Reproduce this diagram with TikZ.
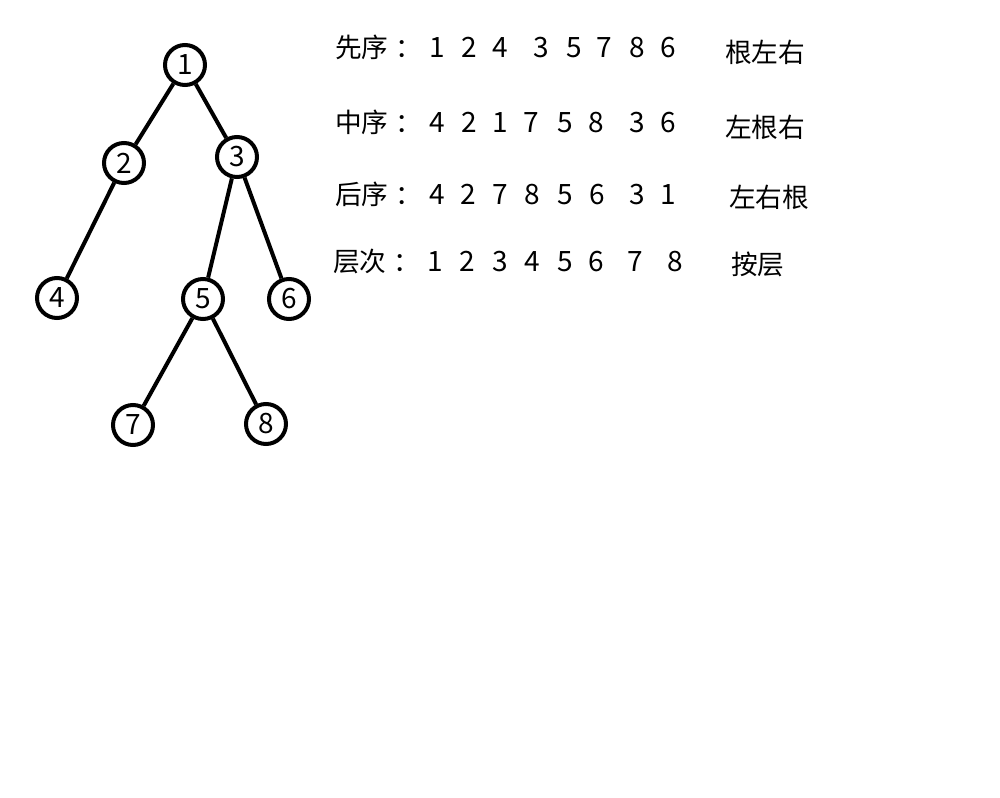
\documentclass[tikz,border=0pt]{standalone}
\usepackage{fontspec}
\setmainfont{Noto Sans CJK SC}
\begin{document}
\begin{tikzpicture}[x=0.75pt,y=-0.75pt,
  tn/.style={circle,draw,line width=3pt,minimum size=30pt,inner sep=0pt,font=\fontsize{21pt}{24pt}\selectfont},
  edge/.style={line width=3pt},
  txt/.style={anchor=base,inner sep=0pt,font=\fontsize{21pt}{24pt}\selectfont},
  lbl/.style={anchor=base west,inner sep=0pt,font=\fontsize{20pt}{24pt}\selectfont}]
\useasboundingbox[fill=white] (0,0) rectangle (1000,798);
\node[tn] (n1) at (185,65) {1};
\node[tn] (n2) at (124,163) {2};
\node[tn] (n3) at (237,157) {3};
\node[tn] (n4) at (57,298) {4};
\node[tn] (n5) at (203,299) {5};
\node[tn] (n6) at (289,299) {6};
\node[tn] (n7) at (133,425) {7};
\node[tn] (n8) at (266,424) {8};
\draw[edge] (n1) -- (n2);
\draw[edge] (n1) -- (n3);
\draw[edge] (n2) -- (n4);
\draw[edge] (n3) -- (n5);
\draw[edge] (n3) -- (n6);
\draw[edge] (n5) -- (n7);
\draw[edge] (n5) -- (n8);
% row 1
\node[lbl] (h1) at (335,58) {先序\hspace{5pt}：};
\foreach \d/\x [count=\i] in {1/437,2/469,4/500,3/541,5/574,7/604,8/637,6/668}
  \node[txt] (ra\i) at (\x,58) {\d};
\node[lbl] (t1) at (725,63) {根左右};
% row 2
\node[lbl] (h2) at (335,133) {中序\hspace{5pt}：};
\foreach \d/\x [count=\i] in {4/437,2/469,1/500,7/531,5/565,8/596,3/637,6/668}
  \node[txt] (rb\i) at (\x,133) {\d};
\node[lbl] (t2) at (725,138) {左根右};
% row 3
\node[lbl] (h3) at (335,205) {后序\hspace{5pt}：};
\foreach \d/\x [count=\i] in {4/437,2/468,7/500,8/532,5/565,6/597,3/637,1/668}
  \node[txt] (rc\i) at (\x,205) {\d};
\node[lbl] (t3) at (729,208) {左右根};
% row 4
\node[lbl] (h4) at (333,272) {层次\hspace{5pt}：};
\foreach \d/\x [count=\i] in {1/435,2/467,3/500,4/532,5/565,6/596,7/635,8/675}
  \node[txt] (rd\i) at (\x,272) {\d};
\node[lbl] (t4) at (731,275) {按层};
\end{tikzpicture}
\end{document}
